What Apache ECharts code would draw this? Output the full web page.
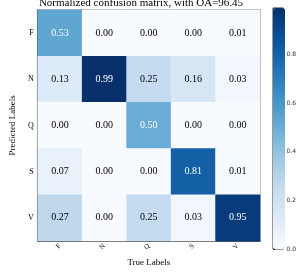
<!DOCTYPE html>
<html><head><meta charset="utf-8">
<script src="https://cdn.jsdelivr.net/npm/echarts@6/dist/echarts.min.js"></script>
<style>html,body{margin:0;padding:0;background:#fff}#c{width:299px;height:272px}</style>
</head><body><div id="c"></div>
<script>
var trueLabels = ['F','N','Q','S','V'];
var predLabels = ['F','N','Q','S','V'];
var rowF = [0.53, 0.00, 0.00, 0.00, 0.01];
var rowN = [0.13, 0.99, 0.25, 0.16, 0.03];
var rowQ = [0.00, 0.00, 0.50, 0.00, 0.00];
var rowS = [0.07, 0.00, 0.00, 0.81, 0.01];
var rowV = [0.27, 0.00, 0.25, 0.03, 0.95];
var colorbarTicks = [0.0, 0.2, 0.4, 0.6, 0.8];
var titleText = 'Normalized confusion matrix, with OA=96.45';

var rows = [rowF, rowN, rowQ, rowS, rowV];
var data = [];
rows.forEach(function(r, i){ r.forEach(function(v, j){ data.push([j, i, v]); }); });
var vmax = 0.99;
var serif = 'Liberation Serif';
var blues = ['#f7fbff','#deebf7','#c6dbef','#9ecae1','#6baed6','#4292c6','#2171b5','#08519c','#08306b'];

var chart = echarts.init(document.getElementById('c'));
chart.setOption({
  animation: false,
  graphic: [{ type: 'text', x: 141, y: 3, z: 100,
    style: { text: titleText, font: '11px "Liberation Serif"', fill: '#000',
      align: 'center', verticalAlign: 'middle', textAlign: 'center', textVerticalAlign: 'middle' } }],
  grid: [
    { left: 22, top: 10, width: 238, height: 239, show: true, borderColor: '#999', borderWidth: 1.5 },
    { left: 273, top: 8, width: 12, height: 241, show: true, borderColor: '#333', borderWidth: 1, backgroundColor: 'transparent' }
  ],
  xAxis: [
    { type: 'category', data: trueLabels, gridIndex: 0, name: 'True Labels', nameLocation: 'middle', nameGap: 16,
      nameTextStyle: { fontFamily: serif, fontSize: 9, color: '#000' },
      axisLine: { lineStyle: { color: '#555' } }, axisTick: { alignWithLabel: true, length: 3, lineStyle: { color: '#333' } },
      axisLabel: { rotate: 45, fontFamily: serif, fontSize: 7, color: '#000', margin: 4 }, splitLine: { show: false } },
    { type: 'value', gridIndex: 1, show: false }
  ],
  yAxis: [
    { type: 'category', data: predLabels, inverse: true, gridIndex: 0, name: 'Predicted Labels', nameLocation: 'middle', nameGap: 13,
      nameTextStyle: { fontFamily: serif, fontSize: 9, color: '#000' },
      axisLine: { lineStyle: { color: '#444' } }, axisTick: { alignWithLabel: true, length: 3, lineStyle: { color: '#333' } },
      axisLabel: { fontFamily: serif, fontSize: 8, color: '#000', margin: 4 }, splitLine: { show: false } },
    { type: 'value', gridIndex: 1, position: 'right', min: 0, max: vmax, interval: 0.2,
      axisLine: { show: false }, axisTick: { show: true, length: 2, lineStyle: { color: '#333' } },
      axisLabel: { fontFamily: 'DejaVu Sans', fontSize: 6, color: '#333', margin: 3,
        formatter: function(v){ return colorbarTicks.indexOf(Math.round(v*10)/10) >= 0 ? v.toFixed(1) : ''; } },
      splitLine: { show: false } }
  ],
  visualMap: {
    type: 'continuous', min: 0, max: vmax, calculable: false, seriesIndex: 0,
    left: 273, top: 8, itemWidth: 12, itemHeight: 241, padding: 0, text: null, showLabel: false,
    inRange: { color: blues }, textStyle: { color: 'transparent' }
  },
  series: [{
    type: 'heatmap', xAxisIndex: 0, yAxisIndex: 0,
    data: data.map(function(d){ return { value: d, label: { color: d[2] > vmax/2 ? '#fff' : '#000' } }; }),
    label: { show: true, fontFamily: serif, fontSize: 10,
      formatter: function(p){ return p.value[2].toFixed(2); } },
    itemStyle: { borderWidth: 0 }
  }]
});
</script></body></html>
